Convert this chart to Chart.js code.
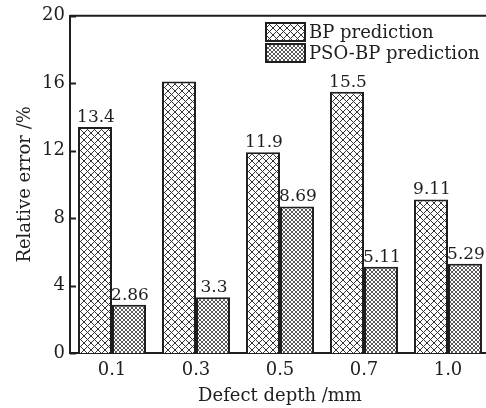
<!DOCTYPE html>
<html>
<head>
<meta charset="utf-8">
<script src="https://cdn.jsdelivr.net/npm/chart.js@4.4.1/dist/chart.umd.min.js"></script>
<style>
html, body { margin: 0; padding: 0; overflow: hidden; background: #fff; }
</style>
</head>
<body>
<canvas id="chart" width="492" height="408"></canvas>
<script>
// data
const depths = ['0.1', '0.3', '0.5', '0.7', '1.0'];
const bpError = [13.4, 16.1, 11.9, 15.5, 9.11];
const psoError = [2.86, 3.3, 8.69, 5.11, 5.29];
const bpLabels = ['13.4', '', '11.9', '15.5', '9.11'];
const psoLabels = ['2.86', '3.3', '8.69', '5.11', '5.29'];
const seriesNames = ['BP prediction', 'PSO-BP prediction'];

const ink = '#1e1e1e';
const font = { family: 'DejaVu Serif', size: 18 };

const makeHatch = (size, color, bg) => {
    const c = document.createElement('canvas');
    c.width = size; c.height = size;
    const g = c.getContext('2d');
    g.fillStyle = bg;
    g.fillRect(0, 0, size, size);
    g.strokeStyle = color;
    g.lineWidth = 1;
    g.beginPath();
    g.moveTo(0, 0); g.lineTo(size, size);
    g.moveTo(0, size); g.lineTo(size, 0);
    g.stroke();
    return document.getElementById('chart').getContext('2d').createPattern(c, 'repeat');
}

const bpFill = makeHatch(7, '#333', '#fff');
const psoFill = makeHatch(4, '#5a5a5a', '#fff');

// top frame line + inward y ticks
const frame = {
    id: 'frame',
    afterDraw(chart) {
        const ctx = chart.ctx, a = chart.chartArea, y = chart.scales.y;
        ctx.save();
        ctx.strokeStyle = ink;
        ctx.lineWidth = 2;
        ctx.beginPath();
        ctx.moveTo(a.left, a.top);
        ctx.lineTo(a.right, a.top);
        y.ticks.forEach(t => {
            const py = Math.round(y.getPixelForValue(t.value)) + 0.5;
            ctx.moveTo(a.left, py);
            ctx.lineTo(a.left + 6, py);
        });
        ctx.stroke();
        ctx.restore();
    }
};

// numbers above bars
const barText = {
    id: 'barText',
    afterDatasetsDraw(chart) {
        const ctx = chart.ctx;
        ctx.save();
        ctx.font = '17px "DejaVu Serif"';
        ctx.fillStyle = ink;
        ctx.textAlign = 'center';
        ctx.textBaseline = 'bottom';
        chart.data.datasets.forEach((ds, i) => {
            chart.getDatasetMeta(i).data.forEach((bar, j) => {
                const txt = ds.valueText[j];
                if (txt) ctx.fillText(txt, bar.x + 1, bar.y - 1);
            });
        });
        ctx.restore();
    }
};

// legend inside the plot
const boxLegend = {
    id: 'boxLegend',
    afterDraw(chart) {
        const ctx = chart.ctx;
        const x0 = 266, y0 = 23, w = 39, h = 18, gap = 3;
        ctx.save();
        ctx.font = '18px "DejaVu Serif"';
        ctx.textBaseline = 'middle';
        chart.data.datasets.forEach((ds, i) => {
            const y = y0 + i * (h + gap);
            ctx.fillStyle = ds.backgroundColor;
            ctx.fillRect(x0, y, w, h);
            ctx.strokeStyle = ink;
            ctx.lineWidth = 2;
            ctx.strokeRect(x0, y, w, h);
            ctx.fillStyle = ink;
            ctx.fillText(ds.label, x0 + w + 4, y + h / 2 + 1);
        });
        ctx.restore();
    }
};

new Chart(document.getElementById('chart'), {
    type: 'bar',
    data: {
        labels: depths,
        datasets: [{
            label: seriesNames[0],
            data: bpError,
            valueText: bpLabels,
            backgroundColor: bpFill,
            borderColor: ink,
            borderWidth: 2
        }, {
            label: seriesNames[1],
            data: psoError,
            valueText: psoLabels,
            backgroundColor: psoFill,
            borderColor: ink,
            borderWidth: 2
        }]
    },
    options: {
        responsive: false,
        animation: false,
        categoryPercentage: 0.81,
        barPercentage: 1,
        layout: { padding: { top: 15, right: 2, left: 0, bottom: 0 } },
        plugins: {
            legend: { display: false },
            tooltip: { enabled: false }
        },
        scales: {
            x: {
                grid: { display: false, drawTicks: false },
                border: { display: true, color: ink, width: 2 },
                ticks: { font: font, color: ink, padding: 7 },
                title: { display: true, text: 'Defect depth /mm', font: font, color: ink, padding: { top: 0, bottom: 1 } },
                afterFit: s => { s.height = 55; }
            },
            y: {
                min: 0,
                max: 20,
                grid: { display: false, drawTicks: false },
                border: { display: true, color: ink, width: 2 },
                ticks: { stepSize: 4, font: font, color: ink, padding: 5 },
                title: { display: true, text: 'Relative error /%', font: font, color: ink, padding: { top: 15, bottom: 0 } },
                afterFit: s => { s.width = 70; }
            }
        }
    },
    plugins: [frame, barText, boxLegend]
});
</script>
</body>
</html>
